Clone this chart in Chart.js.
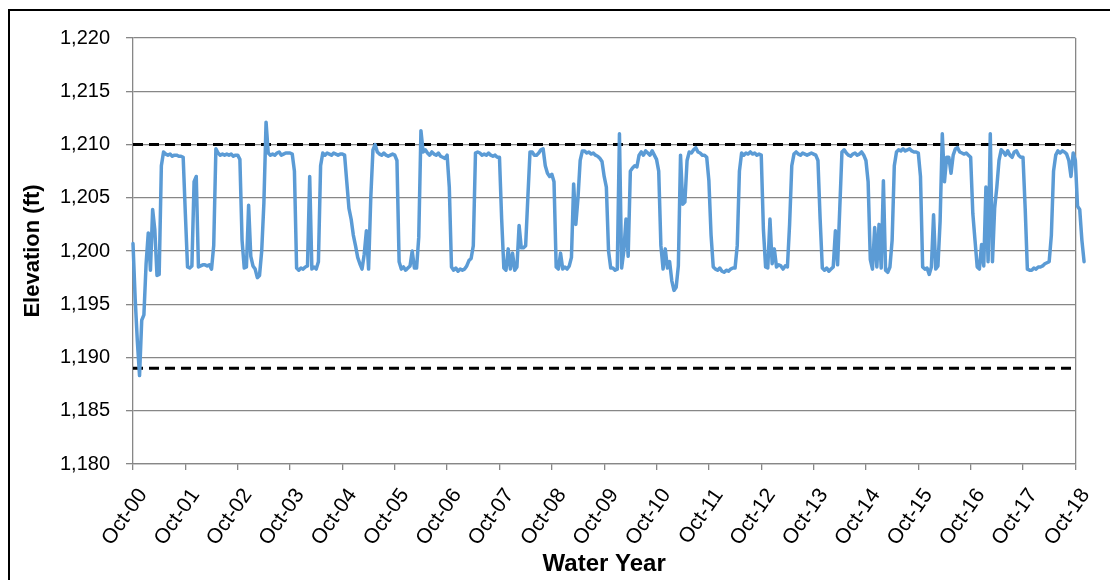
<!DOCTYPE html>
<html>
<head>
<meta charset="utf-8">
<script src="https://cdn.jsdelivr.net/npm/chart.js@4.4.0/dist/chart.umd.min.js"></script>
<style>
  html, body { margin: 0; padding: 0; background: #fff; overflow: hidden; }
  #wrap { position: relative; width: 1110px; height: 580px; }
  #frame { position: absolute; left: 8px; top: 9px; width: 1200px; height: 700px; border: 2px solid #000; box-sizing: border-box; pointer-events: none; }
  #chart { position: absolute; left: 0; top: 0; }
</style>
</head>
<body>
<div id="wrap">
  <canvas id="chart" width="1110" height="580" style="width:1110px;height:580px"></canvas>
  <div id="frame"></div>
</div>
<script>
// tick labels, one per water year start
const xLabels = ['Oct-00', 'Oct-01', 'Oct-02', 'Oct-03', 'Oct-04', 'Oct-05', 'Oct-06', 'Oct-07', 'Oct-08', 'Oct-09',
                 'Oct-10', 'Oct-11', 'Oct-12', 'Oct-13', 'Oct-14', 'Oct-15', 'Oct-16', 'Oct-17', 'Oct-18'];
const yMin = 1180;
const yMax = 1220;
const yStep = 5;

// reference elevations (dashed lines)
const upperLimit = 1210;
const lowerLimit = 1189;

// reservoir elevation, twice a month, each water year starting in October
const pointsPerYear = 24;
const wy2001 = [1200.7, 1195.5, 1191.5, 1188.3, 1193.5, 1194.0, 1198.8, 1201.7, 1198.2, 1203.9, 1202.0, 1197.7, 1197.8, 1208.0, 1209.3, 1209.1, 1209.0, 1209.1, 1208.9, 1209.0, 1209.0, 1208.9, 1208.9, 1208.8];
const wy2002 = [1203.5, 1198.5, 1198.4, 1198.6, 1206.5, 1207.0, 1198.5, 1198.6, 1198.7, 1198.7, 1198.6, 1198.7, 1198.3, 1200.5, 1209.6, 1209.2, 1209.0, 1209.1, 1209.0, 1209.1, 1209.0, 1209.1, 1208.9, 1209.0];
const wy2003 = [1209.0, 1208.6, 1201.0, 1198.4, 1198.5, 1204.3, 1199.5, 1198.6, 1198.3, 1197.5, 1197.7, 1200.0, 1204.5, 1212.1, 1209.2, 1209.0, 1209.1, 1209.0, 1209.2, 1209.3, 1209.0, 1209.1, 1209.2, 1209.2];
const wy2004 = [1209.2, 1209.1, 1207.5, 1198.4, 1198.2, 1198.4, 1198.3, 1198.5, 1198.6, 1207.0, 1198.3, 1198.5, 1198.3, 1199.0, 1208.0, 1209.2, 1209.0, 1209.2, 1209.1, 1209.0, 1209.2, 1209.1, 1209.0, 1209.1];
const wy2005 = [1209.1, 1209.0, 1206.5, 1204.0, 1203.0, 1201.5, 1200.5, 1199.4, 1198.8, 1198.3, 1199.7, 1201.9, 1198.3, 1205.0, 1209.5, 1210.0, 1209.3, 1209.1, 1209.0, 1209.2, 1209.0, 1208.9, 1209.0, 1209.1];
const wy2006 = [1209.0, 1208.5, 1199.0, 1198.3, 1198.5, 1198.2, 1198.4, 1198.6, 1200.0, 1198.4, 1198.4, 1201.3, 1211.3, 1209.3, 1209.5, 1209.2, 1209.0, 1209.3, 1209.1, 1209.0, 1209.2, 1208.9, 1208.8, 1208.7];
const wy2007 = [1209.0, 1206.0, 1198.5, 1198.2, 1198.4, 1198.1, 1198.3, 1198.2, 1198.3, 1198.6, 1199.1, 1199.3, 1200.5, 1209.2, 1209.3, 1209.2, 1209.0, 1209.1, 1209.0, 1209.2, 1209.0, 1208.9, 1209.0, 1208.8];
const wy2008 = [1208.8, 1203.0, 1198.4, 1198.2, 1200.2, 1198.3, 1199.8, 1198.2, 1198.5, 1202.4, 1200.3, 1200.3, 1200.5, 1205.0, 1209.3, 1209.3, 1209.0, 1209.0, 1209.2, 1209.5, 1209.6, 1208.0, 1207.3, 1207.0];
const wy2009 = [1207.2, 1206.5, 1198.5, 1198.3, 1199.8, 1198.3, 1198.5, 1198.3, 1198.6, 1199.4, 1206.3, 1202.5, 1205.0, 1208.5, 1209.4, 1209.4, 1209.2, 1209.3, 1209.1, 1209.2, 1209.0, 1208.9, 1208.7, 1208.4];
const wy2010 = [1207.0, 1206.0, 1200.0, 1198.4, 1198.4, 1198.2, 1198.3, 1211.0, 1198.4, 1200.0, 1203.0, 1199.5, 1207.5, 1207.8, 1208.0, 1207.9, 1209.0, 1209.3, 1209.0, 1209.4, 1209.2, 1209.0, 1209.4, 1209.0];
const wy2011 = [1208.6, 1207.5, 1200.5, 1198.3, 1200.2, 1198.4, 1199.0, 1197.2, 1196.3, 1196.6, 1198.6, 1209.0, 1204.4, 1204.6, 1208.5, 1209.3, 1209.2, 1209.5, 1209.7, 1209.3, 1209.2, 1209.0, 1209.0, 1208.8];
const wy2012 = [1206.6, 1201.5, 1198.5, 1198.3, 1198.2, 1198.4, 1198.1, 1198.0, 1198.2, 1198.1, 1198.3, 1198.4, 1198.4, 1200.5, 1207.5, 1209.2, 1209.0, 1209.2, 1209.1, 1209.3, 1209.1, 1209.2, 1209.0, 1209.1];
const wy2013 = [1209.0, 1202.0, 1198.5, 1198.4, 1203.0, 1198.8, 1200.2, 1198.5, 1198.7, 1198.6, 1198.3, 1198.6, 1198.5, 1202.5, 1208.0, 1209.1, 1209.3, 1209.1, 1209.0, 1209.2, 1209.1, 1209.0, 1209.1, 1209.2];
const wy2014 = [1209.1, 1209.0, 1208.5, 1203.0, 1198.4, 1198.2, 1198.4, 1198.1, 1198.3, 1198.5, 1201.9, 1198.7, 1204.0, 1209.3, 1209.5, 1209.2, 1209.0, 1208.9, 1209.1, 1209.2, 1209.0, 1209.1, 1209.3, 1209.0];
const wy2015 = [1208.5, 1206.5, 1199.2, 1198.3, 1202.2, 1198.5, 1202.5, 1198.4, 1206.6, 1198.2, 1198.0, 1198.5, 1201.0, 1208.0, 1209.3, 1209.5, 1209.4, 1209.6, 1209.4, 1209.5, 1209.6, 1209.4, 1209.3, 1209.3];
const wy2016 = [1209.2, 1207.0, 1198.5, 1198.3, 1198.4, 1197.8, 1198.5, 1203.4, 1198.3, 1198.6, 1202.8, 1211.0, 1206.5, 1208.8, 1208.8, 1207.3, 1209.0, 1209.6, 1209.7, 1209.3, 1209.2, 1209.1, 1209.2, 1209.0];
const wy2017 = [1208.8, 1203.5, 1201.0, 1198.5, 1198.3, 1200.6, 1198.6, 1206.0, 1199.0, 1211.0, 1199.0, 1204.0, 1206.0, 1208.5, 1209.5, 1209.3, 1209.0, 1209.4, 1209.0, 1208.8, 1209.3, 1209.4, 1209.0, 1208.8];
const wy2018 = [1208.8, 1204.0, 1198.3, 1198.2, 1198.2, 1198.4, 1198.3, 1198.5, 1198.5, 1198.6, 1198.8, 1198.9, 1199.0, 1201.5, 1207.5, 1209.0, 1209.4, 1209.2, 1209.4, 1209.3, 1209.1, 1208.5, 1207.0, 1209.2];
const wy2019 = [1208.5, 1204.2, 1203.9, 1201.0, 1199.0];

const waterYears = [wy2001, wy2002, wy2003, wy2004, wy2005, wy2006, wy2007, wy2008, wy2009, wy2010,
                    wy2011, wy2012, wy2013, wy2014, wy2015, wy2016, wy2017, wy2018, wy2019];

const elevation = [];
waterYears.forEach((vals, k) => {
    vals.forEach((v, i) => elevation.push({ x: k + i / pointsPerYear, y: v }));
});

const lastYear = xLabels.length - 1;
const gridGray = '#878787';

Chart.defaults.font.family = '"Liberation Sans", Arial, sans-serif';
Chart.defaults.color = '#000';

new Chart(document.getElementById('chart'), {
    type: 'line',
    data: {
        datasets: [
            {
                data: elevation,
                borderColor: '#5B9BD5',
                borderWidth: 3.5,
                pointRadius: 0,
                tension: 0,
                borderJoinStyle: 'round',
                borderCapStyle: 'round',
                clip: false,
                order: 0
            },
            {
                data: [{ x: 0, y: upperLimit }, { x: lastYear, y: upperLimit }],
                borderColor: '#000',
                borderWidth: 3,
                borderDash: [10, 6],
                pointRadius: 0,
                order: 1
            },
            {
                data: [{ x: 0, y: lowerLimit }, { x: lastYear, y: lowerLimit }],
                borderColor: '#000',
                borderWidth: 3,
                borderDash: [10, 6],
                pointRadius: 0,
                order: 1
            }
        ]
    },
    options: {
        responsive: false,
        animation: false,
        layout: { padding: { left: 0, top: 38, right: 33, bottom: 0 } },
        plugins: {
            legend: { display: false },
            tooltip: { enabled: false }
        },
        scales: {
            x: {
                type: 'linear',
                min: 0,
                // max is set after data limits so the tail past Oct-18 still gets drawn
                afterDataLimits: (scale) => { scale.max = lastYear; },
                afterFit: (scale) => { scale.height = 116; },
                grid: {
                    drawOnChartArea: true,
                    color: (ctx) => (ctx.tick && ctx.tick.value === lastYear ? gridGray : 'rgba(0,0,0,0)'),
                    tickColor: gridGray,
                    tickLength: 6,
                    lineWidth: 1.3
                },
                border: { color: gridGray, width: 1.3 },
                ticks: {
                    stepSize: 1,
                    autoSkip: false,
                    minRotation: 55,
                    maxRotation: 55,
                    labelOffset: 10,
                    padding: 14,
                    font: { size: 21 },
                    callback: (value) => xLabels[value] ?? ''
                },
                title: {
                    display: true,
                    text: 'Water Year',
                    font: { size: 24, weight: 'bold' },
                    padding: { top: 0, bottom: 1 }
                }
            },
            y: {
                min: yMin,
                max: yMax,
                afterFit: (scale) => { scale.width = 133; },
                grid: {
                    color: gridGray,
                    tickColor: gridGray,
                    tickLength: 7,
                    lineWidth: 1.3
                },
                border: { color: gridGray, width: 1.3 },
                ticks: {
                    stepSize: yStep,
                    padding: 16,
                    font: { size: 20 },
                    callback: (value) => value.toLocaleString('en-US')
                },
                title: {
                    display: true,
                    text: 'Elevation (ft)',
                    font: { size: 22, weight: 'bold' },
                    padding: { top: 20, bottom: 0 }
                }
            }
        }
    }
});
</script>
</body>
</html>
